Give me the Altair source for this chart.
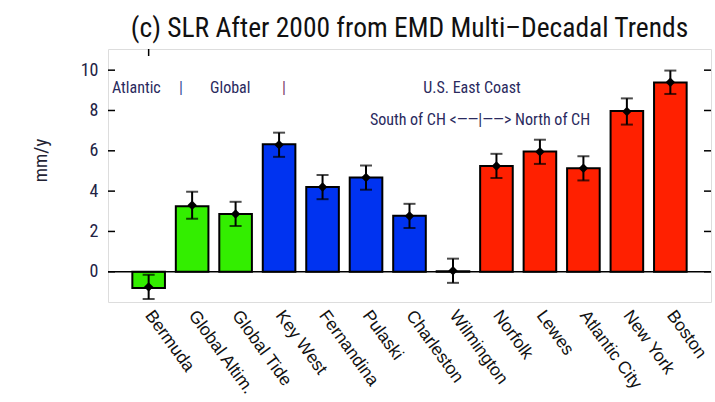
import altair as alt
import pandas as pd

# Multi-decadal sea-level-rise rates after 2000 (mm/y) with their uncertainties
sites = ["Bermuda", "Global Altim.", "Global Tide", "Key West", "Fernandina",
         "Pulaski", "Charleston", "Wilmington", "Norfolk", "Lewes",
         "Atlantic City", "New York", "Boston"]
rates = [-0.8, 3.25, 2.87, 6.32, 4.2, 4.67, 2.78, 0.03, 5.25, 5.96, 5.13, 7.97, 9.39]
points = [-0.75, 3.3, 2.87, 6.3, 4.2, 4.67, 2.77, 0.05, 5.25, 5.95, 5.13, 7.95, 9.4]
errors = [0.6, 0.67, 0.6, 0.6, 0.6, 0.6, 0.6, 0.6, 0.6, 0.6, 0.6, 0.65, 0.58]
colors = ["#33ee00", "#33ee00", "#33ee00", "#0033f0", "#0033f0", "#0033f0",
          "#0033f0", "#ffffff", "#ff2000", "#ff2000", "#ff2000", "#ff2000", "#ff2000"]
y_ticks = [0, 2, 4, 6, 8, 10]

FONT = "Liberation Sans Narrow, Roboto Condensed, Liberation Sans, Arial"
LABEL_FONT = "Liberation Sans, Arial"
W, H = 603, 253

df = pd.DataFrame({
    "site": sites,
    "rate": rates,
    "point": points,
    "lo": [p - e for p, e in zip(points, errors)],
    "hi": [p + e for p, e in zip(points, errors)],
    "color": colors,
})
ticks_df = pd.DataFrame({"v": y_ticks})

yscale = alt.Scale(domain=[-1.5, 11.05], nice=False, zero=False)
xenc = alt.X(
    "site:N", sort=sites,
    scale=alt.Scale(paddingInner=0.25, paddingOuter=0.56),
    axis=alt.Axis(title=None, domain=False, ticks=False, labelAngle=54,
                  labelAlign="left", labelBaseline="middle", labelPadding=10,
                  labelFont=LABEL_FONT, labelFontSize=17.5, labelColor="#111111"),
)

base = alt.Chart(df).encode(x=xenc)

bars = base.mark_bar(stroke="black", strokeWidth=2, clip=True).encode(
    y=alt.Y("rate:Q", scale=yscale,
            axis=alt.Axis(values=y_ticks, title="mm/y", domain=False, ticks=False,
                          grid=False, labelFont=FONT, labelFontSize=18,
                          labelColor="#222244", labelPadding=10,
                          titleFont=FONT, titleFontSize=19, titleFontWeight="normal",
                          titleColor="#222233", titleX=-68, titleY=111,
                          titleAngle=-90, titleAlign="center",
                          titleBaseline="middle")),
    y2=alt.datum(0),
    color=alt.Color("color:N", scale=None),
)

zero_line = alt.Chart(pd.DataFrame({"z": [0]})).mark_rule(
    color="black", strokeWidth=1.5).encode(
    x=alt.value(0), x2=alt.value(W), y=alt.Y("z:Q", scale=yscale))

err = base.mark_rule(color="black", strokeWidth=2, clip=True).encode(
    y=alt.Y("lo:Q", scale=yscale), y2="hi:Q")
cap_lo = base.mark_tick(color="black", thickness=2, size=12, orient="horizontal",
                        clip=True).encode(y=alt.Y("lo:Q", scale=yscale))
cap_hi = base.mark_tick(color="black", thickness=2, size=12, orient="horizontal",
                        clip=True).encode(y=alt.Y("hi:Q", scale=yscale))
dots = base.mark_point(shape="diamond", filled=True, color="black", size=90,
                       opacity=1, clip=True).encode(y=alt.Y("point:Q", scale=yscale))

left_ticks = alt.Chart(ticks_df).mark_rule(color="black", strokeWidth=1.5).encode(
    x=alt.value(0), x2=alt.value(7), y=alt.Y("v:Q", scale=yscale))
right_ticks = alt.Chart(ticks_df).mark_rule(color="black", strokeWidth=1.5).encode(
    x=alt.value(W - 7), x2=alt.value(W), y=alt.Y("v:Q", scale=yscale))
top_tick = alt.Chart(pd.DataFrame({"site": ["Bermuda"]})).mark_rule(
    color="black", strokeWidth=1.5).encode(
    x=alt.X("site:N", sort=sites), y=alt.value(0), y2=alt.value(7))

ANN = "#2a2a5e"


def note(txt, x, y, color=ANN, align="left", size=16):
    return alt.Chart(pd.DataFrame({"t": [txt]})).mark_text(
        font=FONT, fontSize=size, color=color, align=align, baseline="middle"
    ).encode(x=alt.value(x), y=alt.value(y), text="t:N")


notes = [
    note("Atlantic", 4, 39),
    note("|", 71, 39, color="#3a4a9a"),
    note("Global", 102, 39),
    note("|", 174, 39, color="#7a3a6a"),
    note("U.S. East Coast", 364, 39, align="center"),
    note("South of CH <\u2014\u2014|\u2014\u2014> North of CH", 372, 71, align="center"),
]

chart = alt.layer(
    bars, zero_line, err, cap_lo, cap_hi, dots,
    left_ticks, right_ticks, top_tick, *notes
).properties(
    width=W, height=H,
    title=alt.TitleParams("(c) SLR After 2000 from EMD Multi\u2013Decadal Trends",
                          font=FONT, fontSize=27.5, fontWeight="normal",
                          color="#111111", anchor="middle", offset=6),
    autosize=alt.AutoSizeParams(type="none"),
    padding={"left": 108, "top": 49, "right": 4, "bottom": 100},
).configure_view(stroke="black", strokeWidth=2).configure(background="white")

chart.save("out.html", embed_options={"renderer": "svg", "actions": False})
